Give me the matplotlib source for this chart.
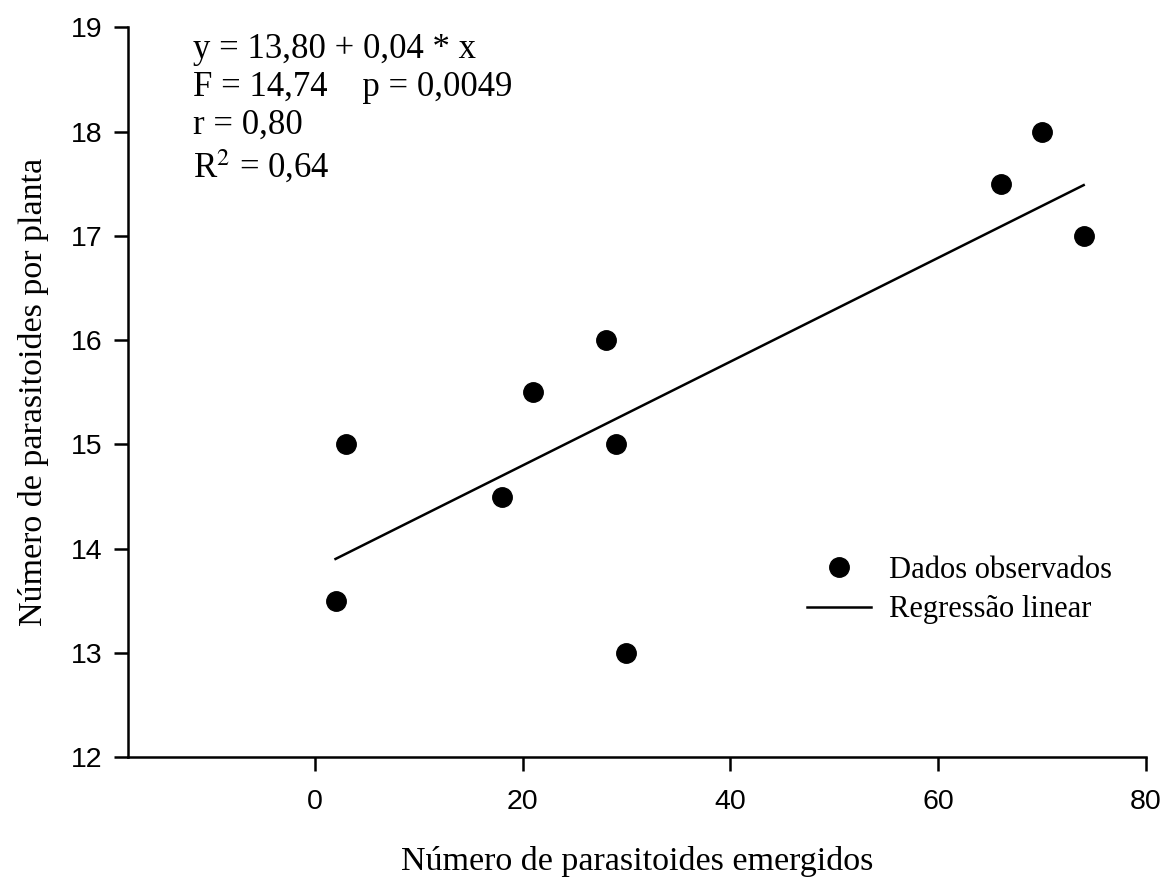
import numpy as np
import matplotlib
matplotlib.use("Agg")
import matplotlib.pyplot as plt

# emergidos vs por planta
x_obs = [2, 3, 18, 21, 28, 29, 30, 66, 70, 74]
y_obs = [13.5, 15, 14.5, 15.5, 16, 15, 13, 17.5, 18, 17]
x_ticks = [0, 20, 40, 60, 80]
y_ticks = [12, 13, 14, 15, 16, 17, 18, 19]
stats_lines = ["y = 13,80 + 0,04 * x",
               "F = 14,74    p = 0,0049",
               "r = 0,80",
               "R$^2$ = 0,64"]

serif = "Liberation Serif"
sans = "Liberation Sans"

fig = plt.figure(figsize=(11.63, 8.77), dpi=100)
ax = fig.add_axes([0.1098, 0.1365, 0.8756, 0.8324])

slope, icpt = np.polyfit(x_obs, y_obs, 1)
xl = np.array([min(x_obs), max(x_obs)])
ax.plot(xl, icpt + slope * xl, color="black", lw=1.8, label="Regressão linear")
ax.plot(x_obs, y_obs, "o", color="black", ms=14, label="Dados observados")

ax.set_xlim(-18, 80)
ax.set_ylim(12, 19)
ax.set_xticks(x_ticks)
ax.set_yticks(y_ticks)
for s in ["top", "right"]:
    ax.spines[s].set_visible(False)
for s in ["left", "bottom"]:
    ax.spines[s].set_linewidth(1.8)
ax.tick_params(direction="out", length=10, width=1.8, labelsize=20.5, pad=8)
ax.tick_params(axis="x", pad=13)
for lab in ax.get_xticklabels() + ax.get_yticklabels():
    lab.set_family(sans)

ax.set_xlabel("Número de parasitoides emergidos", family=serif, fontsize=24.5, labelpad=22)
ax.set_ylabel("Número de parasitoides por planta", family=serif, fontsize=24.5, labelpad=16)

ax.text(0.064, 0.992, "\n".join(stats_lines), transform=ax.transAxes,
        family=serif, fontsize=25, va="top", ha="left", linespacing=1.2,
        math_fontfamily="stix")

h, l = ax.get_legend_handles_labels()
ax.legend(h[::-1], l[::-1], loc="center left", bbox_to_anchor=(0.64, 0.229),
          frameon=False, prop={"family": serif, "size": 22},
          handlelength=2.1, handletextpad=0.6, labelspacing=0.35)

fig.savefig("out.png", dpi=100)
